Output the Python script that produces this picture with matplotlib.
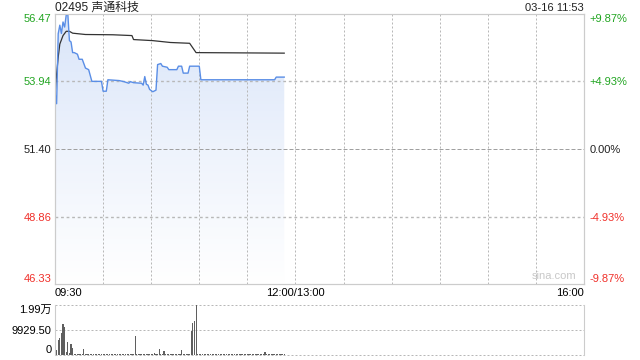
import numpy as np
import matplotlib
matplotlib.use("Agg")
import matplotlib.pyplot as plt
from matplotlib.colors import LinearSegmentedColormap
from matplotlib.patches import Polygon

GREEN, RED, BLACK, GRID = "#21a521", "#f0302a", "#222222", "#b8b8b8"
LINE_BLUE, AVG = "#5a8ee6", "#333333"
plt.rcParams.update({
    "font.family": ["Liberation Sans", "Noto Sans CJK SC"],
    "axes.edgecolor": "#cccccc", "figure.facecolor": "white", "axes.facecolor": "white",
})

# ---- data (minutes since 09:30 on a 330-minute trading axis) ----
prev_close = 51.40
price_min = [0, 1, 2, 3, 4, 5, 6, 7, 8, 9, 10, 11, 12, 14, 15, 17, 19, 21, 23, 29,
             30, 32, 33, 40, 43, 46, 47, 49, 54, 55, 56, 57, 58, 59, 61, 63, 64, 66,
             67, 70, 71, 76, 77, 79, 80, 83, 84, 90, 91, 137, 138, 143]
price = [53.50, 53.10, 55.73, 56.05, 55.74, 56.17, 55.98, 56.43, 56.47, 55.47, 55.42,
         55.02, 55.02, 54.96, 54.77, 54.77, 54.44, 54.38, 53.94, 53.94, 53.57, 53.57,
         54.00, 53.97, 53.93, 53.87, 53.93, 53.89, 53.87, 53.80, 54.12, 53.83, 53.80,
         53.64, 53.55, 53.61, 54.57, 54.61, 54.51, 54.47, 54.38, 54.38, 54.51, 54.51,
         54.25, 54.25, 54.51, 54.51, 54.00, 54.00, 54.10, 54.10]
avg_min = [0, 1, 2, 3, 5, 7, 9, 11, 19, 36, 48, 49, 61, 72, 84, 88, 143]
avg_price = [53.43, 54.20, 54.85, 55.34, 55.66, 55.82, 55.82, 55.75, 55.70, 55.69,
             55.66, 55.51, 55.47, 55.40, 55.37, 55.02, 55.00]
volume = [
    2650, 2000, 5960, 6600, 8870, 12300, 11250, 1300, 5300, 900, 4370, 2650,
    300, 250, 400, 200, 300, 350, 2250, 300, 200, 250, 300, 400,
    250, 300, 200, 350, 300, 250, 400, 300, 200, 300, 250, 300,
    200, 300, 250, 400, 300, 350, 250, 300, 200, 300, 250, 400,
    300, 250, 7660, 300, 200, 250, 350, 300, 250, 300, 400, 250,
    300, 250, 930, 300, 350, 2400, 300, 250, 1600, 300, 250, 300,
    250, 300, 200, 300, 250, 400, 300, 2000, 250, 300, 350, 300,
    400, 9660, 12830, 13500, 19859, 300, 250, 300, 250, 200, 300, 250,
    300, 250, 200, 300, 350, 250, 300, 200, 300, 250, 300, 400,
    250, 300, 200, 300, 250, 350, 300, 250, 200, 300, 250, 300,
    300, 250, 200, 350, 300, 250, 300, 200, 300, 250, 300, 1000,
    250, 300, 200, 300, 250, 300, 350, 250, 300, 200, 250, 300,
]
price_ticks = [46.33, 48.86, 51.40, 53.94, 56.47]
price_labels = ["46.33", "48.86", "51.40", "53.94", "56.47"]
pct_labels = ["-9.87%", "-4.93%", "0.00%", "+4.93%", "+9.87%"]
tick_colors = [RED, RED, BLACK, GREEN, GREEN]
time_ticks = [0, 150, 330]
time_labels = ["09:30", "12:00/13:00", "16:00"]
vol_ticks = [0, 9929.5, 19859]
vol_labels = ["0", "9929.50", "1.99万"]

W, H = 640, 360
YLO, YHI = 46.33, 56.47
FS = 8
LW = 0.72  # one pixel at 100 dpi
DOT = (0, (2, 2))

fig = plt.figure(figsize=(6.4, 3.6), dpi=100)
ax = fig.add_axes([55 / W, 76 / H, 529 / W, 270 / H])
axv = fig.add_axes([55 / W, 5 / H, 529 / W, 50 / H])

# ---- price panel: gradient fill under the price line ----
verts = list(zip(price_min, price)) + [(price_min[-1], YLO), (price_min[0], YLO)]
clip = Polygon(verts, closed=True, facecolor="none", edgecolor="none")
ax.add_patch(clip)
cmap = LinearSegmentedColormap.from_list("fade", ["#ffffff", "#eef3fc", "#d9e5f9"])
grad = np.linspace(0, 1, 256).reshape(-1, 1)
img = ax.imshow(grad, extent=[0, 330, YLO, YHI], origin="lower", aspect="auto",
                cmap=cmap, zorder=1)
img.set_clip_path(clip)

# grid on top of the fill
ax.vlines(range(30, 330, 30), YLO, YHI, color=GRID, linewidth=LW, linestyle=DOT, zorder=2)
ax.hlines([48.86, 53.94], 0, 330, color=GRID, linewidth=1.0, linestyle=DOT, zorder=2)
ax.hlines([prev_close], 0, 330, color="#a0a0a0", linewidth=LW, linestyle=(0, (4, 2)), zorder=2)

ax.plot(avg_min, avg_price, color=AVG, linewidth=0.9, zorder=3)
ax.plot(price_min, price, color=LINE_BLUE, linewidth=1.0, zorder=4)

ax.set_xlim(0, 330)
ax.set_ylim(YLO, YHI)
ax.set_xticks([])
ax.set_yticks(price_ticks)
ax.set_yticklabels(price_labels, fontsize=FS)
ax.tick_params(axis="y", length=0, pad=2.5)
for lab, c in zip(ax.get_yticklabels(), tick_colors):
    lab.set_color(c)
ax.get_yticklabels()[0].set_va("bottom")
ax.get_yticklabels()[-1].set_va("top")

ax2 = ax.twinx()
ax2.set_ylim(YLO, YHI)
ax2.set_yticks(price_ticks)
ax2.set_yticklabels(pct_labels, fontsize=FS)
ax2.tick_params(axis="y", length=0, pad=4)
for lab, c in zip(ax2.get_yticklabels(), tick_colors):
    lab.set_color(c)
ax2.get_yticklabels()[0].set_va("bottom")
ax2.get_yticklabels()[-1].set_va("top")

ax.text(0.985, 0.012, "sina.com", transform=ax.transAxes, color="#c8c8c8",
        fontsize=FS, ha="right", va="bottom")

xt = ax.get_xaxis_transform()
ax.text(time_ticks[0], -0.033, time_labels[0], transform=xt, ha="left", va="center", fontsize=FS)
ax.text(time_ticks[1], -0.033, time_labels[1], transform=xt, ha="center", va="center", fontsize=FS)
ax.text(time_ticks[2], -0.033, time_labels[2], transform=xt, ha="right", va="center", fontsize=FS)

fig.text(55 / W, 1 - 8 / H, "02495 声通科技", fontsize=8.6, ha="left", va="center", color=BLACK)
fig.text(584 / W, 1 - 8 / H, "03-16 11:53", fontsize=FS, ha="right", va="center", color=BLACK)

# ---- volume panel ----
axv.bar(np.arange(len(volume)), volume, width=0.7, color="#5f5f5f", linewidth=0)
axv.set_xlim(0, 330)
axv.set_ylim(0, 19859)
for v in vol_ticks:
    axv.axhline(v, color=GRID, linewidth=LW, linestyle=DOT, zorder=0, clip_on=False, snap=True)
axv.spines["top"].set_visible(False)
axv.spines["bottom"].set_visible(False)
axv.set_xticks([])
axv.set_yticks(vol_ticks)
axv.set_yticklabels(vol_labels, fontsize=FS)
axv.tick_params(axis="y", length=0, pad=2.5)
vl = axv.get_yticklabels()
vl[0].set_va("bottom")
vl[-1].set_va("top")

plt.savefig("out.png", facecolor="white")
plt.close()
